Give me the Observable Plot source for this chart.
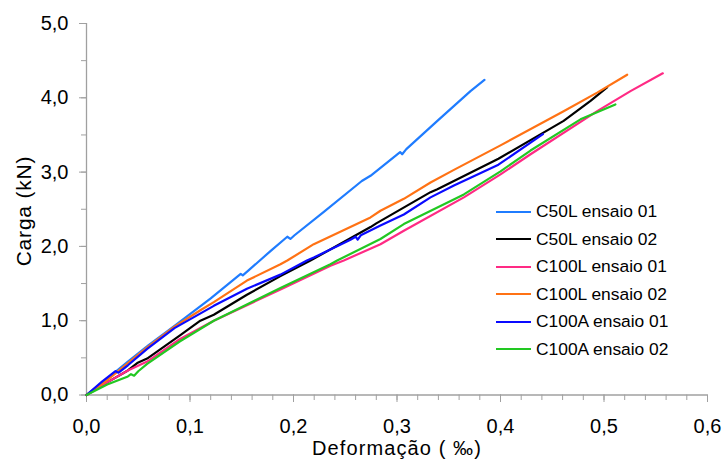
<!DOCTYPE html>
<html><head><meta charset="utf-8">
<script src="https://cdn.jsdelivr.net/npm/d3@7"></script>
<script src="https://cdn.jsdelivr.net/npm/@observablehq/plot@0.6"></script>
<style>
body{margin:0;background:#fff;font-family:"Liberation Sans",Arial,sans-serif;}
#wrap{position:relative;width:726px;height:463px;}
#legend{position:absolute;left:496px;top:198px;font-size:17.4px;color:#000;}
.row{display:flex;align-items:center;height:27.5px;white-space:nowrap;}
.row svg{margin-right:5px;display:block}
</style></head><body><div id="wrap"></div>
<script>
// Series names and colours
const seriesNames = ["C50L ensaio 01","C50L ensaio 02","C100L ensaio 01","C100L ensaio 02","C100A ensaio 01","C100A ensaio 02"];
const seriesColors = ["#1f7cff","#000000","#ff2a84","#ff7214","#0a0aff","#22c822"];

// Deformação (‰), Carga (kN) pairs
const c50l_01 = [[0,0],[0.02,0.22],[0.04,0.45],[0.06,0.67],[0.085,0.93],[0.12,1.30],[0.149,1.63],[0.151,1.61],[0.156,1.67],[0.178,1.94],[0.194,2.13],[0.197,2.10],[0.201,2.15],[0.229,2.46],[0.266,2.88],[0.2744,2.95],[0.303,3.27],[0.305,3.24],[0.309,3.31],[0.339,3.69],[0.371,4.09],[0.3845,4.24]];
const c50l_02 = [[0,0],[0.02,0.17],[0.04,0.33],[0.049,0.43],[0.0586,0.49],[0.09,0.80],[0.11,1.00],[0.123,1.08],[0.155,1.35],[0.1874,1.60],[0.2164,1.81],[0.2744,2.26],[0.28,2.31],[0.3324,2.73],[0.339,2.77],[0.398,3.18],[0.461,3.69],[0.487,3.96],[0.503,4.14]];
const c100l_01 = [[0,0],[0.02,0.17],[0.04,0.33],[0.0586,0.45],[0.09,0.75],[0.123,1.00],[0.1874,1.42],[0.2357,1.74],[0.2486,1.81],[0.284,2.03],[0.3066,2.21],[0.3646,2.66],[0.40,2.97],[0.429,3.24],[0.4934,3.82],[0.5256,4.09],[0.5568,4.33]];
const c100l_02 = [[0,0],[0.02,0.20],[0.04,0.43],[0.0586,0.64],[0.085,0.92],[0.11,1.14],[0.123,1.25],[0.155,1.54],[0.1874,1.76],[0.194,1.81],[0.2196,2.03],[0.2744,2.39],[0.284,2.48],[0.3066,2.64],[0.3324,2.86],[0.355,3.03],[0.40,3.36],[0.461,3.82],[0.4934,4.07],[0.5224,4.31]];
const c100a_01 = [[0,0],[0.015,0.18],[0.028,0.32],[0.031,0.30],[0.04,0.40],[0.0586,0.62],[0.085,0.90],[0.123,1.20],[0.155,1.43],[0.1874,1.62],[0.213,1.81],[0.2196,1.85],[0.255,2.09],[0.26,2.13],[0.262,2.09],[0.265,2.15],[0.284,2.28],[0.3066,2.43],[0.3324,2.66],[0.355,2.82],[0.398,3.10],[0.441,3.51]];
const c100a_02 = [[0,0],[0.02,0.14],[0.04,0.25],[0.043,0.28],[0.046,0.26],[0.05,0.32],[0.0586,0.42],[0.09,0.72],[0.123,1.00],[0.1874,1.44],[0.2357,1.76],[0.2422,1.81],[0.284,2.10],[0.3066,2.30],[0.3646,2.70],[0.40,3.01],[0.429,3.29],[0.4773,3.71],[0.511,3.91]];
const seriesData = [c50l_01, c50l_02, c100l_01, c100l_02, c100a_01, c100a_02];

// Axis ticks
const xMinorTicks = d3.range(0, 0.6001, 0.02);
const xLabelTicks = [0, 0.1, 0.2, 0.3, 0.4, 0.5, 0.6];
const yMinorTicks = d3.range(0, 5.001, 0.5);
const yLabelTicks = [0, 1, 2, 3, 4, 5];
const fmt = d => d.toFixed(1).replace(".", ",");

const rows = seriesData.flatMap((arr, i) => arr.map(([x, y]) => ({series: seriesNames[i], x, y})));

const axisGray = "#a0a0a0";
const chart = Plot.plot({
  width: 726, height: 463,
  marginLeft: 86, marginRight: 19, marginTop: 23, marginBottom: 68.5,
  style: {fontFamily: "'Liberation Sans', Arial, sans-serif", fontSize: "20px", color: "#000", background: "#fff"},
  x: {domain: [0, 0.6]},
  y: {domain: [0, 5]},
  color: {domain: seriesNames, range: seriesColors},
  marks: [
    Plot.axisX(xMinorTicks, {tickSize: 5.5, tickFormat: () => "", stroke: axisGray, label: null}),
    Plot.axisX(xLabelTicks, {tickSize: 7.5, tickPadding: 16.5, stroke: axisGray, tickFormat: fmt, fontSize: 20, label: null}),
    Plot.axisY(yMinorTicks, {tickSize: 5, tickFormat: () => "", stroke: axisGray, label: null}),
    Plot.axisY(yLabelTicks, {tickSize: 7, tickPadding: 11, stroke: axisGray, tickFormat: fmt, fontSize: 20, label: null}),
    Plot.ruleY([0], {stroke: axisGray, strokeWidth: 1.3}),
    Plot.ruleX([0], {stroke: axisGray, strokeWidth: 1.3}),
    Plot.line(rows, {x: "x", y: "y", z: "series", stroke: "series", strokeWidth: 2.2, strokeLinejoin: "round"})
  ]
});

const svg = d3.select(chart);
svg.append("text")
  .attr("x", 397).attr("y", 455)
  .attr("text-anchor", "middle")
  .attr("font-size", 20).attr("letter-spacing", "1.1px").attr("fill", "#000")
  .text("Deformação ( ‰)");
svg.append("text")
  .attr("transform", "translate(31,211) rotate(-90)")
  .attr("text-anchor", "middle")
  .attr("font-size", 21).attr("letter-spacing", "0.8px").attr("fill", "#000")
  .text("Carga (kN)");

const wrap = document.getElementById("wrap");
wrap.appendChild(chart);

const legend = document.createElement("div");
legend.id = "legend";
seriesNames.forEach((name, i) => {
  const row = document.createElement("div");
  row.className = "row";
  row.innerHTML = `<svg width="35" height="4"><line x1="0" x2="35" y1="2" y2="2" stroke="${seriesColors[i]}" stroke-width="2"/></svg><span>${name}</span>`;
  legend.appendChild(row);
});
wrap.appendChild(legend);
</script>
</body></html>
